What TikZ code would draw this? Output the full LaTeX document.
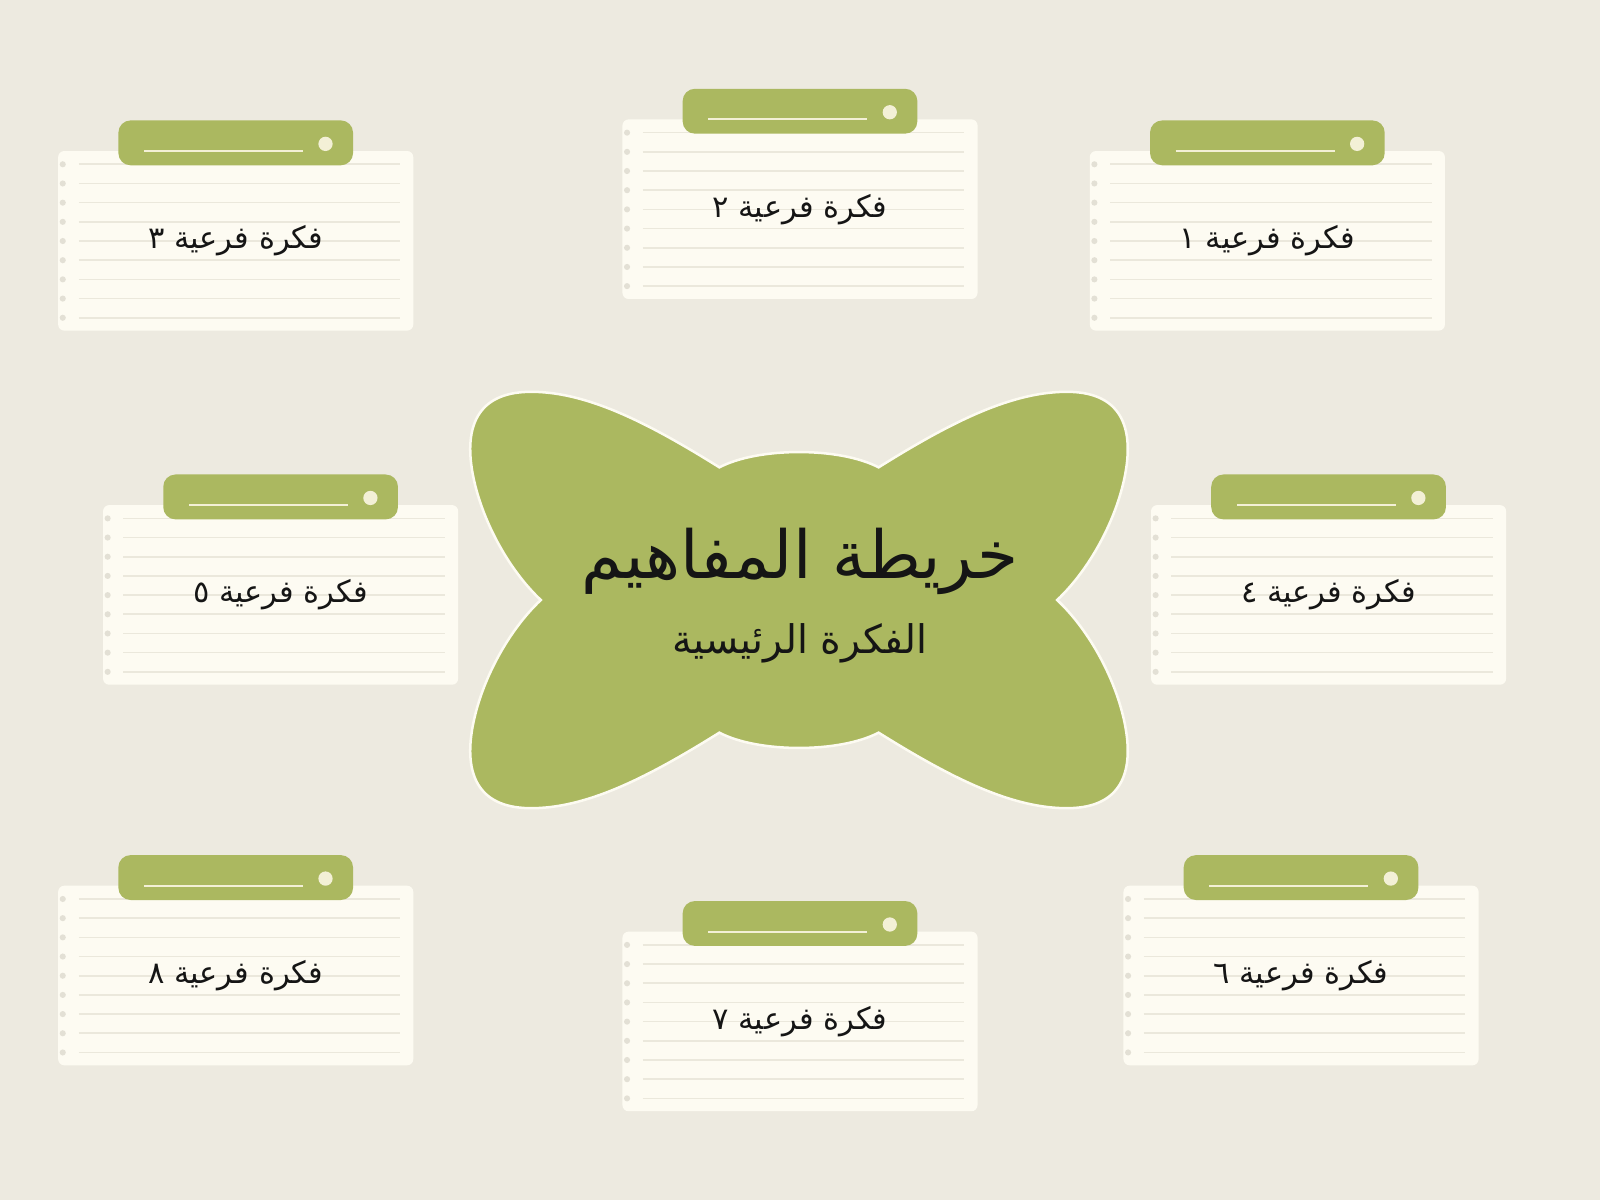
\documentclass[tikz,border=0pt]{standalone}
\usepackage{fontspec}
\usepackage{xcolor}
\usepackage{tikz}
\usetikzlibrary{positioning}
\TeXXeTstate=1
\newfontfamily\arabicfont[Script=Arabic]{DejaVu Sans}

\definecolor{pagebg}{HTML}{EDEAE0}
\definecolor{paperc}{HTML}{FDFBF2}
\definecolor{rulec}{HTML}{EBE8DC}
\definecolor{holec}{HTML}{E3E0D5}
\definecolor{leafc}{HTML}{ABB860}
\definecolor{creamc}{HTML}{F3F0D6}
\definecolor{inkc}{HTML}{151515}

\tikzset{
	paper/.style={fill=paperc,rounded corners=0.12cm},
	ruled/.style={draw=rulec,line width=0.9pt},
	hole/.style={fill=holec},
	tab/.style={fill=leafc,rounded corners=0.24cm},
	tabline/.style={draw=creamc,line width=1.1pt},
	cardtext/.style={text=inkc,font=\arabicfont\fontsize{17}{20}\selectfont,inner sep=0pt},
	maptitle/.style={text=inkc,font=\arabicfont\fontsize{37}{44}\selectfont,inner sep=0pt},
	mapsub/.style={text=inkc,font=\arabicfont\fontsize{22}{26}\selectfont,inner sep=0pt}
}

% one note card: top left corner of the paper, name, text
\newcommand{\notecard}[3]{
	\begin{scope}[shift={#1}]
		\path[paper] (0,0) rectangle (348,176);
		\foreach \i in {0,...,8}{
			\draw[ruled] (20,13+18.8*\i) -- (335,13+18.8*\i);
			\fill[hole] (4.5,13+18.8*\i) circle (0.06cm);
		}
		\path[tab] (59,-30) rectangle (289,14);
		\draw[tabline] (84,0) -- (240,0);
		\fill[creamc] (262,-7) circle (0.14cm);
		\node[cardtext] (#2) at (174,88) {#3};
	\end{scope}
}

\begin{document}
\begin{tikzpicture}[x=0.02cm,y=-0.02cm]
	\fill[pagebg] (0,0) rectangle (1568,1176);
	\useasboundingbox (0,0) rectangle (1568,1176);
	
	% central butterfly
	\begin{scope}[shift={(783,588)},yscale=-1]
		\filldraw[fill=leafc,draw=paperc,line width=1.4pt]
		(78,130) .. controls (150,175) and (210,205) .. (265,204)
		.. controls (315,203) and (328,170) .. (320,125)
		.. controls (312,80) and (285,30) .. (253,0)
		.. controls (285,-30) and (312,-80) .. (320,-125)
		.. controls (328,-170) and (315,-203) .. (265,-204)
		.. controls (210,-205) and (150,-175) .. (78,-130)
		.. controls (40,-150) and (-40,-150) .. (-78,-130)
		.. controls (-150,-175) and (-210,-205) .. (-265,-204)
		.. controls (-315,-203) and (-328,-170) .. (-320,-125)
		.. controls (-312,-80) and (-285,-30) .. (-253,0)
		.. controls (-285,30) and (-312,80) .. (-320,125)
		.. controls (-328,170) and (-315,203) .. (-265,204)
		.. controls (-210,205) and (-150,175) .. (-78,130)
		.. controls (-40,150) and (40,150) .. (78,130) -- cycle;
	\end{scope}
	\node[maptitle] (map) at (784,550) {\beginR خريطة المفاهيم\endR};
	\node[mapsub] (mainidea) at (784,630) {\beginR الفكرة الرئيسية\endR};
	
	% sub ideas
	\notecard{(1068,148)}{sub1}{\beginR فكرة فرعية ١\endR}
	\notecard{(610,117)}{sub2}{\beginR فكرة فرعية ٢\endR}
	\notecard{(57,148)}{sub3}{\beginR فكرة فرعية ٣\endR}
	\notecard{(1128,495)}{sub4}{\beginR فكرة فرعية ٤\endR}
	\notecard{(101,495)}{sub5}{\beginR فكرة فرعية ٥\endR}
	\notecard{(1101,868)}{sub6}{\beginR فكرة فرعية ٦\endR}
	\notecard{(610,913)}{sub7}{\beginR فكرة فرعية ٧\endR}
	\notecard{(57,868)}{sub8}{\beginR فكرة فرعية ٨\endR}
\end{tikzpicture}
\end{document}
